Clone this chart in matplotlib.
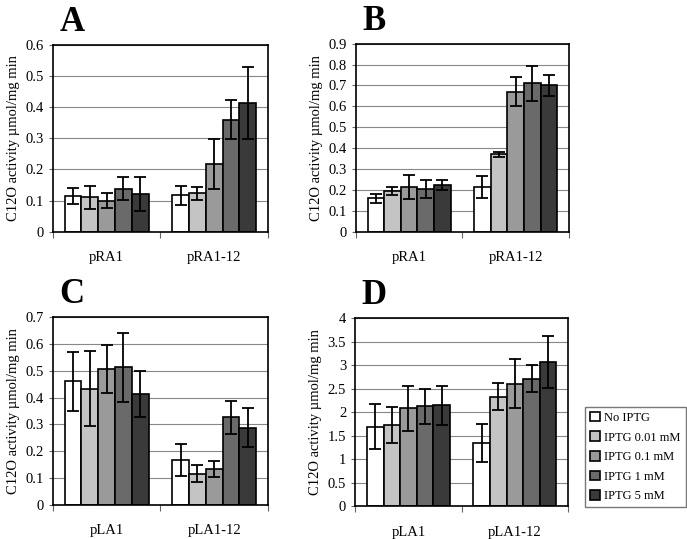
import numpy as np
import matplotlib.pyplot as plt
from matplotlib.patches import Patch

plt.rcParams['font.family'] = ['Liberation Serif', 'DejaVu Serif']

series = ["No IPTG", "IPTG 0.01 mM", "IPTG 0.1 mM", "IPTG 1 mM", "IPTG 5 mM"]
colors = ["#ffffff", "#c4c4c4", "#9a9a9a", "#6a6a6a", "#3a3a3a"]

# panel A
catA = ["pRA1", "pRA1-12"]
valA = [[0.115, 0.110, 0.100, 0.138, 0.122],
        [0.117, 0.123, 0.217, 0.360, 0.412]]
errA = [[0.025, 0.037, 0.025, 0.037, 0.055],
        [0.030, 0.020, 0.080, 0.062, 0.115]]
# panel B
catB = ["pRA1", "pRA1-12"]
valB = [[0.160, 0.195, 0.215, 0.205, 0.225],
        [0.215, 0.370, 0.670, 0.710, 0.700]]
errB = [[0.023, 0.020, 0.058, 0.045, 0.025],
        [0.052, 0.012, 0.070, 0.085, 0.050]]
# panel C
catC = ["pLA1", "pLA1-12"]
valC = [[0.460, 0.433, 0.507, 0.512, 0.412],
        [0.167, 0.117, 0.133, 0.326, 0.288]]
errC = [[0.110, 0.140, 0.090, 0.130, 0.085],
        [0.060, 0.033, 0.030, 0.060, 0.073]]
# panel D
catD = ["pLA1", "pLA1-12"]
valD = [[1.69, 1.73, 2.08, 2.12, 2.14],
        [1.34, 2.33, 2.60, 2.71, 3.07]]
errD = [[0.48, 0.38, 0.48, 0.37, 0.42],
        [0.40, 0.29, 0.52, 0.29, 0.55]]

panels = [
    ("A", catA, valA, errA, 0.6, 0.1, "%.1f", [0.077, 0.570, 0.313, 0.347]),
    ("B", catB, valB, errB, 0.9, 0.1, "%.1f", [0.518, 0.570, 0.310, 0.349]),
    ("C", catC, valC, errC, 0.7, 0.1, "%.1f", [0.077, 0.063, 0.313, 0.349]),
    ("D", catD, valD, errD, 4.0, 0.5, "%g", [0.517, 0.061, 0.310, 0.349]),
]

fig = plt.figure(figsize=(6.87, 5.39), dpi=100)
bw = 0.78 / 5

for letter, cats, vals, errs, ymax, step, fmt, rect in panels:
    ax = fig.add_axes(rect)
    vals = np.array(vals)
    errs = np.array(errs)
    centers = np.arange(len(cats)) + 0.5
    for j in range(5):
        x = centers + (j - 2) * bw
        ax.bar(x, vals[:, j], bw, color=colors[j], edgecolor="black",
               linewidth=1.2, zorder=2)
        ax.errorbar(x, vals[:, j], yerr=errs[:, j], fmt="none", ecolor="black",
                    elinewidth=1.3, capsize=4, capthick=1.3, zorder=3)
    ax.set_xlim(0, len(cats))
    ax.set_ylim(0, ymax)
    ticks = np.arange(0, ymax + step / 2, step)
    ax.set_yticks(ticks)
    ax.set_yticklabels([("0" if t == 0 else fmt % t) for t in ticks], fontsize=10.5)
    ax.yaxis.grid(True, color="#888888", linewidth=0.8, zorder=0)
    ax.set_axisbelow(True)
    ax.set_xticks([0, 1, 2])
    ax.set_xticklabels([])
    ax.set_xticks(centers, minor=True)
    ax.set_xticklabels(cats, minor=True, fontsize=10.5)
    ax.tick_params(axis="x", which="minor", length=0, pad=14)
    ax.tick_params(axis="x", which="major", length=4, direction="out", color="#666666")
    ax.tick_params(axis="y", length=3, direction="out", color="#666666")
    for s in ax.spines.values():
        s.set_linewidth(1.2)
    ax.set_ylabel("C12O activity µmol/mg min", fontsize=10.5)
    ax.text(0.03, 1.03, letter, transform=ax.transAxes, fontsize=25,
            fontweight="bold", ha="left", va="bottom")

handles = [Patch(facecolor=c, edgecolor="black", linewidth=1.2) for c in colors]
fig.legend(handles, series, loc="lower left", bbox_to_anchor=(0.843, 0.047),
           fontsize=9, frameon=True, fancybox=False, edgecolor="#555555",
           handlelength=0.8, handleheight=0.8, handletextpad=0.3,
           labelspacing=0.6, borderpad=0.4)

fig.savefig("out.png", dpi=100)
